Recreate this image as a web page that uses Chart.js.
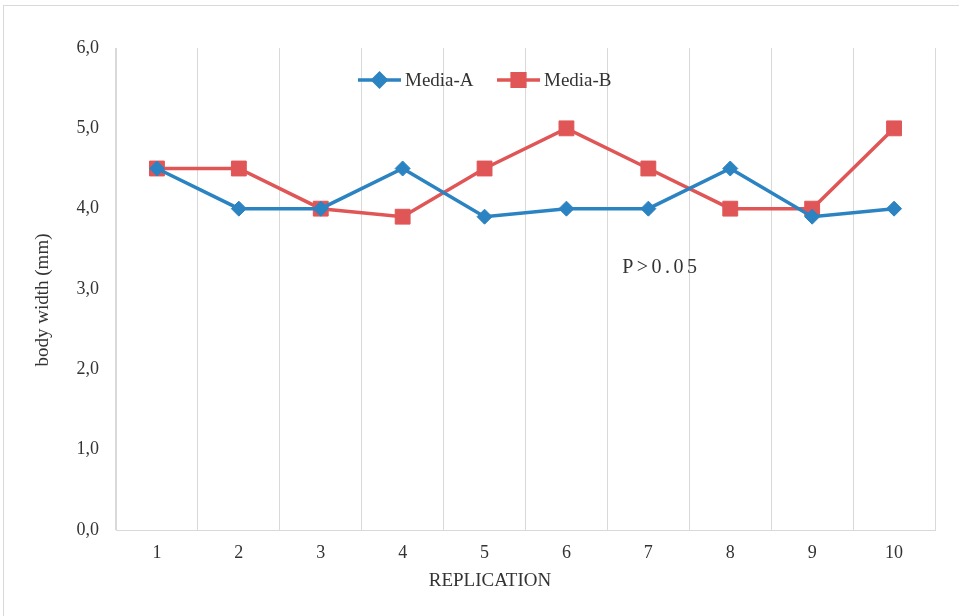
<!DOCTYPE html>
<html>
<head>
<meta charset="utf-8">
<script src="https://cdn.jsdelivr.net/npm/chart.js@4.4.1/dist/chart.umd.min.js"></script>
<style>
  html, body { margin: 0; padding: 0; background: #fff; }
  #wrap { width: 959px; height: 616px; position: relative; }
</style>
</head>
<body>
<div id="wrap"><canvas id="chart"></canvas></div>
<script>
const replications = ['1', '2', '3', '4', '5', '6', '7', '8', '9', '10'];
const mediaA = [4.5, 4.0, 4.0, 4.5, 3.9, 4.0, 4.0, 4.5, 3.9, 4.0];
const mediaB = [4.5, 4.5, 4.0, 3.9, 4.5, 5.0, 4.5, 4.0, 4.0, 5.0];
const yTicks = [0, 1, 2, 3, 4, 5, 6];

const blue = '#2B83C2';
const red = '#E05656';
const textColor = '#333';
const serif = '"Liberation Serif", "Times New Roman", serif';

// outer frame, legend, axis titles and the P-value note
const extras = {
  id: 'extras',
  afterDraw(chart) {
    const ctx = chart.ctx;
    ctx.save();
    ctx.strokeStyle = '#d9d9d9';
    ctx.lineWidth = 1;
    ctx.strokeRect(3.5, 5.5, 1000, 1000);

    // legend
    const items = [
      { label: 'Media-A', color: blue, style: 'rectRot', r: 6.5, x: 358 },
      { label: 'Media-B', color: red, style: 'rect', r: 9, x: 497 }
    ];
    const ly = 80;
    ctx.font = '19px ' + serif;
    ctx.textBaseline = 'middle';
    items.forEach((it) => {
      ctx.strokeStyle = it.color;
      ctx.lineWidth = 3.5;
      ctx.beginPath();
      ctx.moveTo(it.x, ly);
      ctx.lineTo(it.x + 43, ly);
      ctx.stroke();
      ctx.fillStyle = it.color;
      Chart.helpers.drawPoint(ctx, { pointStyle: it.style, radius: it.r, borderWidth: 1, rotation: 0 }, it.x + 21.5, ly);
      ctx.fillStyle = textColor;
      ctx.textAlign = 'left';
      ctx.fillText(it.label, it.x + 47, ly + 1);
    });

    // axis titles
    ctx.fillStyle = textColor;
    ctx.font = '19px ' + serif;
    ctx.textAlign = 'center';
    ctx.fillText('REPLICATION', 490, 581);
    ctx.save();
    ctx.translate(43, 300);
    ctx.rotate(-Math.PI / 2);
    ctx.fillText('body width (mm)', 0, 0);
    ctx.restore();

    // P value note
    const xs = chart.scales.x, ys = chart.scales.y;
    const px = xs.getPixelForValue(5) + (xs.getPixelForValue(6) - xs.getPixelForValue(5)) * 0.68;
    const py = ys.getPixelForValue(3.27);
    ctx.font = '20px ' + serif;
    ctx.textAlign = 'left';
    if ('letterSpacing' in ctx) ctx.letterSpacing = '3.5px';
    ctx.fillText('P>0.05', px, py);
    ctx.restore();
  }
};

new Chart(document.getElementById('chart'), {
  type: 'line',
  data: {
    labels: replications,
    datasets: [
      {
        label: 'Media-A',
        data: mediaA,
        borderColor: blue,
        backgroundColor: blue,
        borderWidth: 3.5,
        pointStyle: 'rectRot',
        pointRadius: 7.5,
        pointBorderWidth: 1,
        tension: 0
      },
      {
        label: 'Media-B',
        data: mediaB,
        borderColor: red,
        backgroundColor: red,
        borderWidth: 3.5,
        pointStyle: 'rect',
        pointRadius: 10.5,
        pointBorderWidth: 1,
        tension: 0
      }
    ]
  },
  options: {
    responsive: true,
    maintainAspectRatio: false,
    animation: false,
    layout: { padding: { left: 0, right: 24, top: 48, bottom: 0 } },
    plugins: {
      legend: { display: false },
      tooltip: { enabled: false }
    },
    scales: {
      x: {
        offset: true,
        afterFit: (axis) => { axis.height = 86; },
        grid: { offset: true, color: '#d9d9d9', lineWidth: 1, drawTicks: false },
        border: { color: '#d9d9d9' },
        ticks: { color: textColor, font: { family: serif, size: 18 }, padding: 12, maxRotation: 0 }
      },
      y: {
        min: 0,
        max: 6,
        afterFit: (axis) => { axis.width = 116; },
        afterBuildTicks: (axis) => { axis.ticks = yTicks.map((v) => ({ value: v })); },
        grid: { display: false, drawTicks: false },
        border: { color: '#d9d9d9' },
        ticks: {
          color: textColor,
          font: { family: serif, size: 18 },
          padding: 17,
          callback: (v) => v.toFixed(1).replace('.', ',')
        }
      }
    }
  },
  plugins: [extras]
});
</script>
</body>
</html>
